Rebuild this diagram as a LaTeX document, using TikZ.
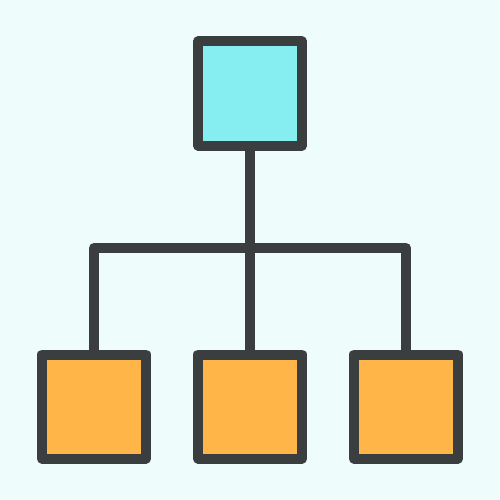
\documentclass[tikz,border=0pt]{standalone}
\usepackage{tikz}
\usepackage{xcolor}
\usetikzlibrary{positioning,calc}

\definecolor{bgcol}{HTML}{EEFCFC}
\definecolor{edgecol}{HTML}{3B3E3E}
\definecolor{topcol}{HTML}{86EEF0}
\definecolor{leafcol}{HTML}{FFB547}

\begin{document}
\begin{tikzpicture}[x=0.5mm,y=-0.5mm]
        \tikzstyle{box}=[rectangle, minimum size = 52mm, line width = 5mm, line join = round, draw = edgecol]
        \tikzstyle{connect}=[line width = 5mm, draw = edgecol, line join = round]
        \fill[bgcol] (0,0) rectangle (500,500);
        \useasboundingbox (0,0) rectangle (500,500);
        \node[box,fill=topcol] (root) at (250,93.5) {};
        \node[box,fill=leafcol] (leaf2) [below=99.5mm of root] {};
        \node[box,fill=leafcol] (leaf1) [left=21mm of leaf2] {};
        \node[box,fill=leafcol] (leaf3) [right=21mm of leaf2] {};
        \coordinate (bar) at (250,248);
        \path[connect] (root.south) -- (leaf2.north)
        (leaf1.north) |- (bar) -| (leaf3.north);
      \end{tikzpicture}
\end{document}
